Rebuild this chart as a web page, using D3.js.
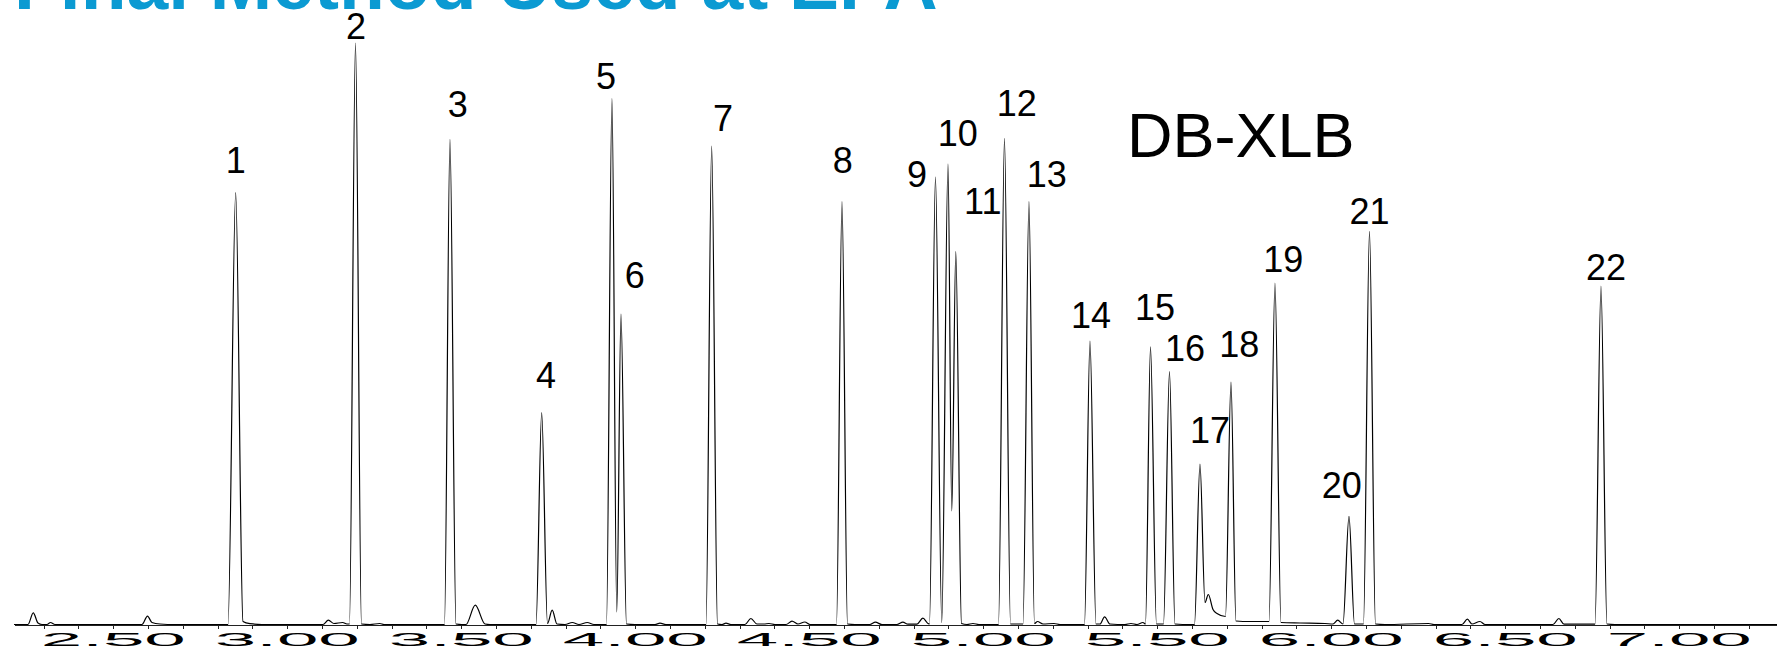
<!DOCTYPE html>
<html>
<head>
<meta charset="utf-8">
<title>Final Method Used at EPA - DB-XLB</title>
<script src="https://d3js.org/d3.v7.min.js"></script>
<style>
  body { margin: 0; background: #fff; }
  svg { display: block; font-family: "Liberation Sans", Arial, sans-serif; }
  .trace { fill: none; stroke: #000; stroke-width: 1.2px; stroke-linejoin: round; }
  .axis path, .axis line { stroke: #222; shape-rendering: crispEdges; }
</style>
</head>
<body>
<div id="chart"></div>
<script>
// numbered peaks: retention time (min) and height (arbitrary units)
var peakLabels  = ["1","2","3","4","5","6","7","8","9","10","11",
                   "12","13","14","15","16","17","18","19","20","21","22"];
var peakTimes   = [2.8517, 3.1960, 3.4675, 3.7310, 3.9330, 3.9589, 4.2195, 4.5940,
                   4.8626, 4.8986, 4.9210, 5.0609, 5.1313, 5.3066, 5.4805, 5.5351,
                   5.6227, 5.7118, 5.8382, 6.0509, 6.1098, 6.7750];
var peakHeights = [431.8, 581.5, 485.1, 212.0, 525.9, 310.5, 478.3, 422.8,
                   447.5, 460.5, 372.9, 486.2, 422.8, 283.5, 277.7, 252.8,
                   160.5, 242.5, 341.5, 108.1, 393.1, 338.5];

// feet, valleys, small bumps and baseline between the numbered peaks [time, signal]
var traceBetween = [
  [2.2147,0],[2.2549,0],[2.2701,11.6],[2.2836,1.5],[2.2951,0],[2.3095,0],[2.3195,2],[2.3325,0],
  [2.5825,0],[2.5983,8.3],[2.6112,2],[2.6342,0.5],[2.6773,0],
  [2.8296,0],[2.8727,3],[2.8928,0.8],[2.9273,0],
  [3.1026,0],[3.1181,4.3],[3.1342,1],[3.1592,2],[3.1716,0.5],[3.1787,0.5],
  [3.2132,0.5],[3.2376,0],[3.2658,1],[3.2779,0],
  [3.4517,0],[3.4848,0.5],[3.5020,0],[3.5135,0],[3.5402,19.3],[3.5681,0.5],[3.5825,0],
  [3.7147,0],[3.7477,1],[3.7612,14.3],[3.7750,0.5],[3.7980,0],[3.8190,2],[3.8382,0],[3.8621,2],[3.8813,0],
  [3.9172,0],[3.9468,12.5],[3.9747,0.5],[3.9991,0],[4.0566,0],[4.0710,1.3],[4.0882,0],
  [4.2032,0],[4.2362,0.5],[4.2491,0],[4.2606,1.3],[4.2750,0],[4.3152,0],[4.3322,6],[4.3497,0.5],
  [4.3698,0.5],[4.3842,1],[4.4014,0],[4.4331,0],[4.4503,3.3],[4.4675,0.5],[4.4871,2.5],[4.5020,0],
  [4.5782,0],[4.6098,0.5],[4.6313,0],[4.6744,0],[4.6899,2.3],[4.7089,0],[4.7520,0],[4.7690,2.3],
  [4.7836,0.3],[4.8095,0.3],[4.8264,6.3],[4.8411,1],[4.8454,0.5],
  [4.8807,2],[4.9095,113.5],[4.9374,1],[4.9532,0],[4.9704,1],[4.9876,0],
  [5.0437,0],[5.0782,0.5],[5.1141,0.5],[5.1471,1],[5.1557,3],[5.1716,0.5],[5.2032,1],[5.2204,0],
  [5.2908,0],[5.3239,0.5],[5.3353,0.5],[5.3486,7.7],[5.3641,0.5],[5.4072,0],[5.4244,1],[5.4417,0],
  [5.4589,2],[5.4661,0.5],[5.4977,0.5],[5.5178,0.5],[5.5509,0.5],[5.5940,0],[5.6069,0],
  [5.6371,22],[5.6466,30],[5.6601,15],[5.6716,11],[5.6960,8],
  [5.7261,3.5],[5.7664,3],[5.8210,3],[5.8555,2],[5.9101,1.5],[5.9819,1],[6.0049,0.5],
  [6.0184,4.3],[6.0336,0.5],[6.0667,0.5],[6.0925,0.5],[6.1270,0.5],[6.1543,0],
  [6.2796,1],[6.2951,0],[6.3756,0],[6.3911,5.3],[6.4043,0.5],[6.4273,3],[6.4417,0],
  [6.6371,0],[6.6540,6],[6.6687,0.3],[6.7578,0.3],[6.7922,0.5],[6.8152,0],[7.2808,0]
];

var tickLabels = ["2.50","3.00","3.50","4.00","4.50","5.00","5.50","6.00","6.50","7.00"];

// where each peak number sits relative to its apex (px)
var labelOffsets = [[0,-20],[0.5,-3.7],[7.7,-22],[4.3,-25],[-6,-10],[13.7,-26],[11.3,-15.5],
                    [0.7,-29],[-18.5,10],[9.7,-18.3],[27,-37.6],[12.2,-22.3],[17.7,-15],
                    [1,-13],[4.5,-26.8],[15.5,-11],[10,-21.3],[8.3,-24.7],[8.3,-11.3],
                    [-7.3,-18.1],[0,-7.4],[5,-6]];

var width = 1777, height = 646;

var svg = d3.select("#chart").append("svg")
    .attr("width", width)
    .attr("height", height);

var x = d3.scaleLinear()
    .domain([2.2147, 7.2808])
    .range([14, 1777]);

var y = d3.scaleLinear()
    .domain([0, 600])
    .range([624.5, 24.5]);

// title, mostly off the top of the slide
svg.append("text")
    .attr("x", 14)
    .attr("y", 8.5)
    .style("font-size", "75px")
    .style("font-weight", "bold")
    .style("fill", "#0b9ad2")
    .text("Final Method Used at EPA");

svg.append("text")
    .attr("x", 1127)
    .attr("y", 156.7)
    .style("font-size", "63px")
    .style("fill", "#000")
    .text("DB-XLB");

// axis with a tick every 0.1 min
var minorTicks = d3.range(23, 73).map(function(d) { return d / 10; });

svg.append("g")
    .attr("class", "axis")
    .attr("transform", "translate(0," + y(0) + ")")
    .call(d3.axisBottom(x).tickValues(minorTicks).tickSize(4).tickSizeOuter(0).tickFormat(""));

svg.selectAll("text.tick-label")
  .data(tickLabels)
  .join("text")
    .attr("class", "tick-label")
    .attr("x", function(d) { return x(+d); })
    .attr("y", 645.5)
    .attr("text-anchor", "middle")
    .attr("textLength", 145)
    .attr("lengthAdjust", "spacingAndGlyphs")
    .style("font-size", "18.5px")
    .style("fill", "#000")
    .text(function(d) { return d; });

// trace: apexes merged with the in-between points
var trace = traceBetween.concat(peakTimes.map(function(t, i) { return [t, peakHeights[i]]; }))
    .sort(function(a, b) { return a[0] - b[0]; });

var line = d3.line()
    .x(function(d) { return x(d[0]); })
    .y(function(d) { return y(d[1]); })
    .curve(d3.curveMonotoneX);

svg.append("path")
    .datum(trace)
    .attr("class", "trace")
    .attr("d", line);

svg.selectAll("text.peak-label")
  .data(peakLabels)
  .join("text")
    .attr("class", "peak-label")
    .attr("x", function(d, i) { return x(peakTimes[i]) + labelOffsets[i][0]; })
    .attr("y", function(d, i) { return y(peakHeights[i]) + labelOffsets[i][1]; })
    .attr("text-anchor", "middle")
    .style("font-size", "36px")
    .style("fill", "#000")
    .text(function(d) { return d; });
</script>
</body>
</html>
